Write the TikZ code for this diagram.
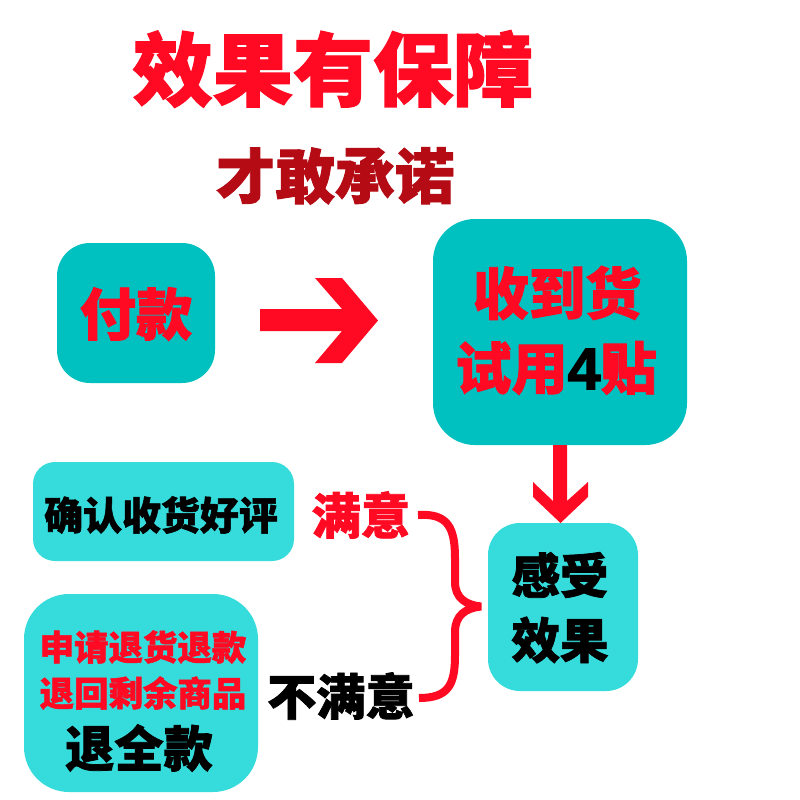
\documentclass[tikz,border=0pt]{standalone}
\usepackage{fontspec}
\newfontfamily\cjk[BoldFeatures={FakeBold=1.5}]{Noto Sans CJK SC}
\newfontfamily\latb[BoldFeatures={FakeBold=2}]{Liberation Sans}
\usetikzlibrary{calc}
\definecolor{tred}{HTML}{FF0A22}
\definecolor{dred}{HTML}{B40B15}
\definecolor{tealA}{HTML}{00C0C0}
\definecolor{tealB}{HTML}{36DCDC}
\newcommand\fs[1]{\fontsize{#1}{#1}\selectfont}
\tikzset{
  boxA/.style={fill=tealA, inner sep=0pt, outer sep=0pt},
  boxB/.style={fill=tealB, inner sep=0pt, outer sep=0pt},
  txt/.style={inner sep=0pt, outer sep=0pt, font=\cjk\bfseries},
  redfill/.style={fill=tred, draw=none},
}
\begin{document}
\begin{tikzpicture}[x=0.25mm,y=-0.25mm]
\useasboundingbox (0,0) rectangle (800,800);
\fill[white] (0,0) rectangle (800,800);

% titles
\node[txt, text=tred] (title) at (333,69) {\fs{57}效果有保障};
\node[txt, text=dred] (sub) at (335,176) {\fs{42.5}才敢承诺};

% boxes
\node[boxA, rounded corners=33*0.25mm, minimum width=158*0.25mm, minimum height=140*0.25mm] (pay) at (136,313) {};
\node[boxA, rounded corners=42*0.25mm, minimum width=254*0.25mm, minimum height=226*0.25mm] (recv) at (560,332) {};
\node[boxB, rounded corners=22*0.25mm, minimum width=261*0.25mm, minimum height=99*0.25mm] (ok) at (163.5,511.5) {};
\node[boxB, rounded corners=45*0.25mm, minimum width=234*0.25mm, minimum height=198*0.25mm] (ref) at (141,693) {};
\node[boxB, rounded corners=32*0.25mm, minimum width=150*0.25mm, minimum height=168*0.25mm] (feel) at (563,607) {};

% box texts
\node[txt, text=tred] (payt) at (136,314) {\fs{40}付款};
\node[txt, text=tred] (recv1) at (557,293) {\fs{40}收到货};
\node[txt, text=tred] (recv2) at (556,368) {\fs{40}试用{\latb\bfseries\fs{42}\color{black}4}贴};
\node[txt, text=black] (okt) at (161,515) {\fs{27.7}确认收货好评};
\node[txt, text=tred] (ref1) at (143,647) {\fs{24.5}申请退货退款};
\node[txt, text=tred] (ref2) at (143,693) {\fs{24.5}退回剩余商品};
\node[txt, text=black] (ref3) at (139,748) {\fs{35}退全款};
\node[txt, text=black] (feel1) at (560,575) {\fs{34.5}感受};
\node[txt, text=black] (feel2) at (560,640) {\fs{34.5}效果};

% labels
\node[txt, text=tred] (sat) at (361,515) {\fs{35}满意};
\node[txt, text=black] (unsat) at (341,696) {\fs{35}不满意};

% right arrow (pay -> recv)
\fill[redfill] (260,309) -- (342,309) -- (315,278) -- (342,278) -- (378,320.5)
  -- (342,363) -- (315,363) -- (342,331) -- (260,331) -- cycle;

% down arrow (recv -> feel)
\fill[redfill] (553,445) -- (553,501) -- (533,482) -- (533,497) -- (560.5,523)
  -- (588,497) -- (588,482) -- (567,501) -- (567,445) -- cycle;

% brace (sat / unsat -> feel)
\draw[tred, line width=2mm, line cap=butt, line join=bevel]
  (418,515) .. controls (448,513) and (455,528) .. (455,558)
  -- (455,582) .. controls (455,598) and (466,605) .. (481,606.5)
  .. controls (466,608) and (455,615) .. (455,632)
  -- (455,656) .. controls (455,685) and (448,698) .. (419,698);
\end{tikzpicture}
\end{document}
